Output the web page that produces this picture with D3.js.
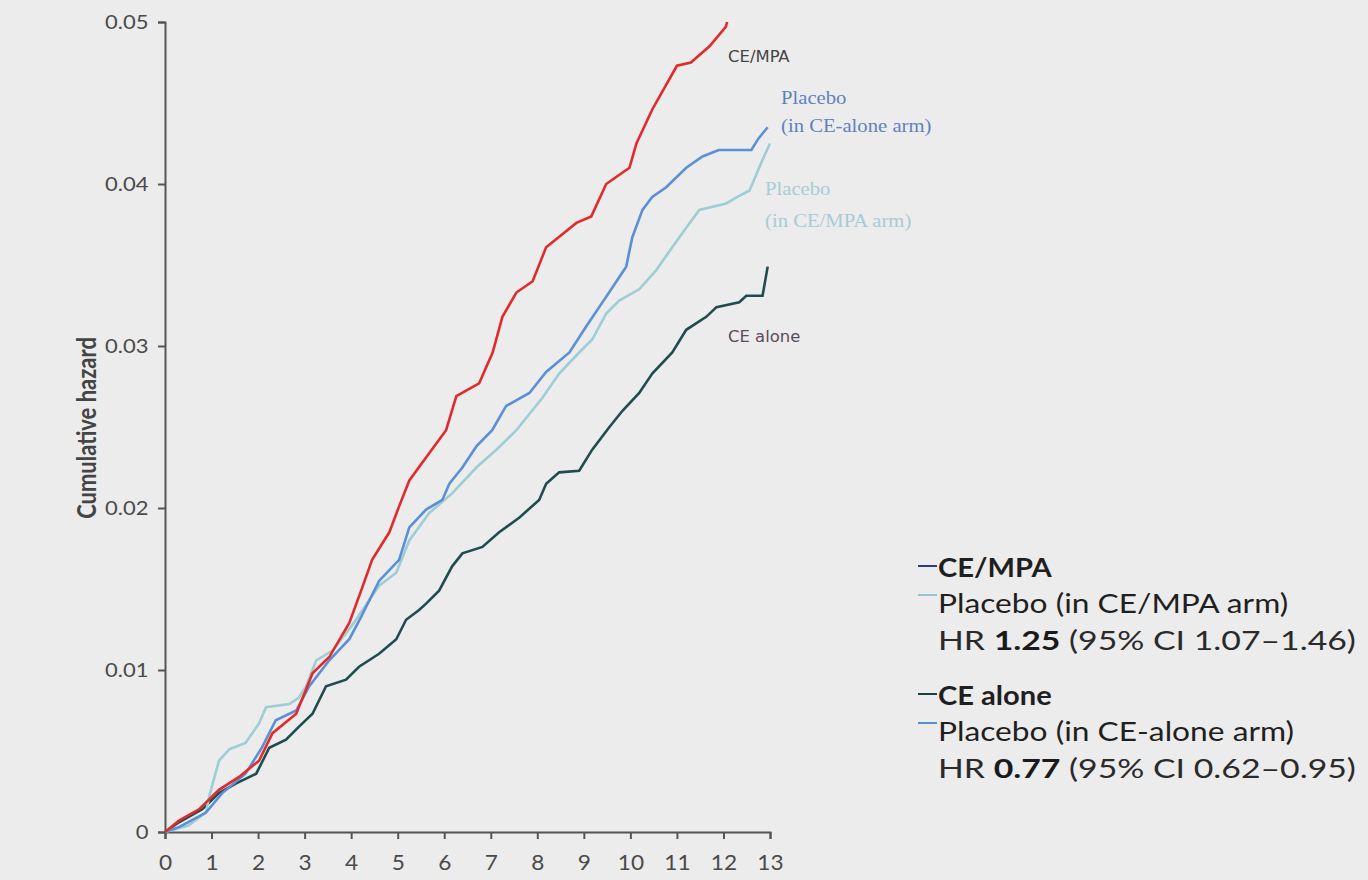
<!DOCTYPE html>
<html>
<head>
<meta charset="utf-8">
<script src="https://cdn.jsdelivr.net/npm/d3@7"></script>
<style>
  html, body { margin: 0; padding: 0; background: #ececec; }
  svg { display: block; }
</style>
</head>
<body>
<svg id="chart" width="1368" height="880"></svg>
<script>
// ---------------- data ----------------
const xTicks = [0,1,2,3,4,5,6,7,8,9,10,11,12,13];
const yTicks = [0, 0.01, 0.02, 0.03, 0.04, 0.05];
const yTickLabels = ["0", "0.01", "0.02", "0.03", "0.04", "0.05"];
const yAxisTitle = "Cumulative hazard";

// [years, cumulative hazard]
const ceMpa = [[0,0],[0.3,0.0007],[0.73,0.0014],[1.16,0.0026],[1.59,0.0034],[2.02,0.0044],[2.31,0.0061],[2.82,0.0073],[3.03,0.0088],[3.17,0.0098],[3.53,0.0108],[3.96,0.0129],[4.24,0.0151],[4.45,0.0168],[4.82,0.0185],[5.03,0.0201],[5.25,0.0217],[5.68,0.0234],[6.04,0.0248],[6.26,0.0269],[6.75,0.0277],[7.04,0.0296],[7.25,0.0318],[7.55,0.0333],[7.9,0.034],[8.19,0.0361],[8.84,0.0376],[9.16,0.038],[9.48,0.040],[9.98,0.041],[10.13,0.0425],[10.47,0.0446],[11.0,0.0473],[11.3,0.0475],[11.7,0.0485],[12.05,0.0497],[12.08,0.05]];

const placeboCeAlone = [[0,0],[0.3,0.0003],[0.88,0.0012],[1.23,0.0024],[1.73,0.0036],[2.08,0.0052],[2.38,0.0069],[2.82,0.0075],[3.1,0.009],[3.53,0.0106],[3.96,0.0119],[4.2,0.0132],[4.6,0.0155],[5.03,0.0168],[5.25,0.0188],[5.61,0.0199],[5.96,0.0205],[6.11,0.0215],[6.39,0.0225],[6.69,0.0238],[7.03,0.0248],[7.33,0.0263],[7.83,0.0271],[8.19,0.0284],[8.69,0.0296],[9.05,0.0312],[9.33,0.0324],[9.61,0.0336],[9.91,0.0349],[10.04,0.0367],[10.26,0.0384],[10.47,0.0392],[10.77,0.0398],[11.2,0.041],[11.55,0.0417],[11.9,0.0421],[12.6,0.0421],[12.75,0.0428],[12.95,0.0435]];

const placeboCeMpa = [[0,0],[0.5,0.0004],[0.88,0.0012],[0.95,0.0022],[1.16,0.0044],[1.38,0.0051],[1.73,0.0055],[2.02,0.0067],[2.17,0.0077],[2.67,0.0079],[2.88,0.0083],[3.03,0.009],[3.25,0.0106],[3.6,0.0112],[4.03,0.0128],[4.6,0.0152],[4.97,0.016],[5.25,0.018],[5.68,0.0197],[6.17,0.0209],[6.69,0.0225],[7.12,0.0236],[7.55,0.0248],[8.11,0.0268],[8.47,0.0283],[8.9,0.0296],[9.18,0.0304],[9.48,0.032],[9.76,0.0328],[10.19,0.0335],[10.56,0.0347],[10.9,0.0361],[11.2,0.0373],[11.48,0.0384],[12.06,0.0388],[12.3,0.0392],[12.56,0.0396],[12.84,0.0415],[13.0,0.0425]];

const ceAlone = [[0,0],[0.3,0.0006],[0.8,0.0014],[1.16,0.0024],[1.53,0.003],[1.96,0.0036],[2.24,0.0052],[2.6,0.0057],[2.88,0.0065],[3.17,0.0073],[3.46,0.009],[3.89,0.0094],[4.17,0.0102],[4.6,0.011],[4.97,0.0119],[5.18,0.0131],[5.46,0.0137],[5.61,0.0141],[5.89,0.0149],[6.17,0.0164],[6.39,0.0172],[6.82,0.0176],[7.18,0.0185],[7.61,0.0194],[8.04,0.0205],[8.19,0.0215],[8.47,0.0222],[8.9,0.0223],[9.18,0.0236],[9.55,0.025],[9.83,0.026],[10.19,0.0271],[10.47,0.0283],[10.9,0.0296],[11.2,0.031],[11.63,0.0318],[11.85,0.0324],[12.34,0.0327],[12.49,0.0331],[12.84,0.0331],[12.95,0.0349]];

const seriesNames = ["CE/MPA", "Placebo (in CE/MPA arm)", "CE alone", "Placebo (in CE-alone arm)"];
const seriesColors = ["#e22a2a", "#9dcdd5", "#1f4d4f", "#5b8fd6"];
const seriesData = [ceMpa, placeboCeMpa, ceAlone, placeboCeAlone];

const legendLineColors = ["#2e3c78", "#93c7cf", "#1f3d3e", "#5d8fcf"];
const hrLabels = [["HR ", "1.25", " (95% CI 1.07\u20131.46)"], ["HR ", "0.77", " (95% CI 0.62\u20130.95)"]];

// ---------------- layout ----------------
const SX = 1.22; // horizontal stretch of the original artwork's type
const svg = d3.select("#chart");
svg.append("rect").attr("width", 1368).attr("height", 880).attr("fill", "#ececec");

const x = d3.scaleLinear().domain([0, 13]).range([165, 770]);
const y = d3.scaleLinear().domain([0, 0.05]).range([832, 22]);

const sansFont = "Lato, 'Open Sans', sans-serif";

// axes
const yAxis = svg.append("g").attr("transform", `translate(${x(0)},0)`)
  .call(d3.axisLeft(y).tickValues(yTicks).tickFormat((d, i) => yTickLabels[i]).tickSizeOuter(0).tickSize(7));
const xAxis = svg.append("g").attr("transform", `translate(0,${y(0)})`)
  .call(d3.axisBottom(x).tickValues(xTicks).tickFormat(d3.format("d")).tickSizeOuter(0).tickSize(7).tickPadding(15));

[yAxis, xAxis].forEach(g => {
  g.select(".domain").attr("stroke", "#555").attr("stroke-width", 2);
  g.selectAll(".tick line").attr("stroke", "#555").attr("stroke-width", 2);
  g.selectAll(".tick text").attr("fill", "#4a4a4a").attr("font-family", sansFont).attr("font-size", 20);
});
yAxis.selectAll(".tick text").attr("transform", `scale(1.1,1)`).attr("x", -15);
xAxis.selectAll(".tick text").attr("transform", `scale(1.03,1)`).attr("font-size", 22);

// y axis title
svg.append("text")
  .attr("transform", `translate(96,428) rotate(-90) scale(1,${SX})`)
  .attr("text-anchor", "middle")
  .attr("font-family", sansFont).attr("font-weight", 700).attr("font-size", 22)
  .attr("fill", "#444")
  .text(yAxisTitle);

// lines
const line = d3.line().x(d => x(d[0])).y(d => y(d[1])).curve(d3.curveLinear);
const drawOrder = [2, 1, 3, 0];
drawOrder.forEach(i => {
  svg.append("path").datum(seriesData[i])
    .attr("fill", "none")
    .attr("stroke", seriesColors[i])
    .attr("stroke-width", 2.6)
    .attr("stroke-linejoin", "miter")
    .attr("d", line);
});

// helper for stretched text
function label(xp, yp, str, opts) {
  return svg.append("text")
    .attr("transform", `translate(${xp},${yp}) scale(${opts.sx || SX},1)`)
    .attr("font-family", opts.font || sansFont)
    .attr("font-size", opts.size || 14)
    .attr("font-weight", opts.weight || 400)
    .attr("fill", opts.fill || "#444")
    .text(str);
}

// in-plot labels
const condensed = "'Liberation Sans Narrow', 'DejaVu Sans Condensed', sans-serif";
const serif = "'Liberation Serif', 'DejaVu Serif', serif";
label(728, 62, "CE/MPA", {font: condensed, size: 15, fill: "#444"});
label(781, 104, "Placebo", {font: serif, size: 18, fill: "#5f82bf", sx: 1.15});
label(781, 132, "(in CE-alone arm)", {font: serif, size: 18, fill: "#5f82bf", sx: 1.15});
label(765, 195, "Placebo", {font: serif, size: 18, fill: "#a9cbd6", sx: 1.15});
label(765, 227, "(in CE/MPA arm)", {font: serif, size: 18, fill: "#a9cbd6", sx: 1.15});
label(728, 342, "CE alone", {font: condensed, size: 15, fill: "#5b4b5b"});

// legend
const legX = 918, legTextX = 938, legSize = 26;
const legRows = [
  {name: 0, base: 577, lineY: 566, bold: true},
  {name: 1, base: 613, lineY: 595, bold: false},
  {name: 2, base: 705, lineY: 694, bold: true},
  {name: 3, base: 741, lineY: 723, bold: false}
];
legRows.forEach(r => {
  svg.append("line").attr("x1", legX).attr("x2", legX + 19).attr("y1", r.lineY).attr("y2", r.lineY)
    .attr("stroke", legendLineColors[r.name]).attr("stroke-width", 2);
  label(legTextX, r.base, seriesNames[r.name], {size: legSize, weight: r.bold ? 700 : 400, fill: "#1f1f1f", sx: r.bold ? 1.12 : SX});
});
[650, 778].forEach((base, i) => {
  const t = label(legTextX, base, "", {size: legSize, fill: "#2a2a2a", sx: 1.3});
  t.append("tspan").text(hrLabels[i][0]);
  t.append("tspan").attr("font-weight", 700).attr("fill", "#1a1a1a").text(hrLabels[i][1]);
  t.append("tspan").text(hrLabels[i][2]);
});
</script>
</body>
</html>
